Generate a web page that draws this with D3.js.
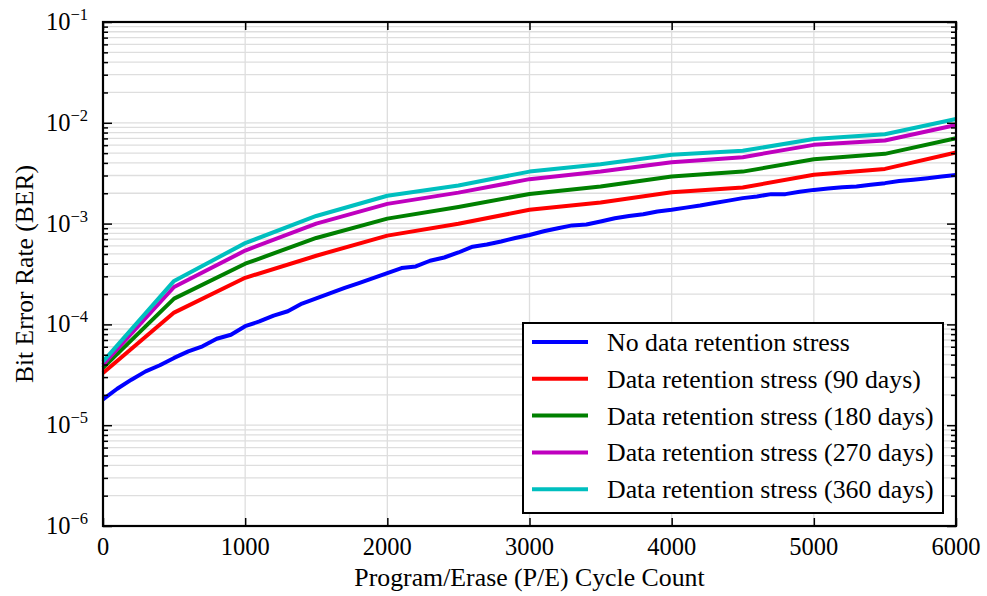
<!DOCTYPE html>
<html>
<head>
<meta charset="utf-8">
<script src="https://cdn.jsdelivr.net/npm/d3@7"></script>
<style>
  html, body { margin: 0; padding: 0; background: #fff; }
  text { font-family: "Liberation Serif", "Times New Roman", serif; fill: #000; }
</style>
</head>
<body>
<svg id="chart" width="987" height="596"></svg>
<script>
// ---- Data ----
const seriesNames = [
  "No data retention stress",
  "Data retention stress (90 days)",
  "Data retention stress (180 days)",
  "Data retention stress (270 days)",
  "Data retention stress (360 days)"
];
const seriesColors = ["#0000ff", "#ff0000", "#008000", "#bf00bf", "#00bfbf"];

// P/E cycle sampling for the baseline (every 100 cycles)
const peFine = [0,100,200,300,400,500,600,700,800,900,1000,1100,1200,1300,1400,1500,1600,1700,1800,1900,2000,
  2100,2200,2300,2400,2500,2600,2700,2800,2900,3000,3100,3200,3300,3400,3500,3600,3700,3800,3900,4000,
  4100,4200,4300,4400,4500,4600,4700,4800,4900,5000,5100,5200,5300,5400,5500,5600,5700,5800,5900,6000];
const berNoStress = [1.8e-5,2.3e-5,2.83e-5,3.42e-5,3.93e-5,4.65e-5,5.4e-5,6.06e-5,7.2e-5,7.9e-5,9.6e-5,
  1.07e-4,1.22e-4,1.35e-4,1.61e-4,1.81e-4,2.04e-4,2.3e-4,2.57e-4,2.88e-4,3.23e-4,
  3.62e-4,3.76e-4,4.28e-4,4.61e-4,5.17e-4,5.9e-4,6.2e-4,6.65e-4,7.2e-4,7.7e-4,
  8.4e-4,9.0e-4,9.6e-4,9.8e-4,1.05e-3,1.13e-3,1.19e-3,1.24e-3,1.32e-3,1.37e-3,
  1.44e-3,1.51e-3,1.6e-3,1.69e-3,1.79e-3,1.86e-3,1.96e-3,1.96e-3,2.07e-3,2.16e-3,
  2.23e-3,2.3e-3,2.33e-3,2.43e-3,2.52e-3,2.64e-3,2.72e-3,2.82e-3,2.93e-3,3.03e-3];

// P/E cycle sampling for retention-stress series (every 500 cycles)
const peCoarse = [0,500,1000,1500,2000,2500,3000,3500,4000,4500,5000,5500,6000];
const ber90  = [3.3e-5,1.31e-4,2.9e-4,4.8e-4,7.6e-4,9.95e-4,1.37e-3,1.62e-3,2.05e-3,2.28e-3,3.05e-3,3.49e-3,5.07e-3];
const ber180 = [3.7e-5,1.8e-4,4.0e-4,7.2e-4,1.12e-3,1.46e-3,1.97e-3,2.33e-3,2.93e-3,3.28e-3,4.35e-3,4.92e-3,7.03e-3];
const ber270 = [3.98e-5,2.35e-4,5.4e-4,1.0e-3,1.57e-3,2.03e-3,2.76e-3,3.28e-3,4.07e-3,4.56e-3,6.04e-3,6.67e-3,9.5e-3];
const ber360 = [4.27e-5,2.7e-4,6.4e-4,1.19e-3,1.89e-3,2.39e-3,3.28e-3,3.88e-3,4.81e-3,5.27e-3,6.92e-3,7.71e-3,1.09e-2];

const xTicks = [0,1000,2000,3000,4000,5000,6000];
const yExponents = [-6,-5,-4,-3,-2,-1];

const xTitle = "Program/Erase (P/E) Cycle Count";
const yTitle = "Bit Error Rate (BER)";

// ---- Layout ----
const svg = d3.select("#chart");
const pL = 103, pR = 956, pT = 22, pB = 526;

const x = d3.scaleLinear().domain([0, 6000]).range([pL, pR]);
const y = d3.scaleLog().domain([1e-6, 1e-1]).range([pB, pT]);

const series = [
  { xs: peFine, ys: berNoStress },
  { xs: peCoarse, ys: ber90 },
  { xs: peCoarse, ys: ber180 },
  { xs: peCoarse, ys: ber270 },
  { xs: peCoarse, ys: ber360 }
];

// minor log values
const minorVals = [];
yExponents.slice(0, -1).forEach(e => {
  for (let m = 2; m <= 9; m++) minorVals.push(m * Math.pow(10, e));
});
const majorVals = yExponents.map(e => Math.pow(10, e));

// ---- Grid ----
const grid = svg.append("g");
grid.selectAll("line.hg").data(minorVals.concat(majorVals)).enter().append("line")
  .attr("x1", pL).attr("x2", pR)
  .attr("y1", d => y(d)).attr("y2", d => y(d))
  .attr("stroke", "#dedede").attr("stroke-width", 1.3);
grid.selectAll("line.vg").data(xTicks).enter().append("line")
  .attr("y1", pT).attr("y2", pB)
  .attr("x1", d => x(d)).attr("x2", d => x(d))
  .attr("stroke", "#dedede").attr("stroke-width", 1.3);

// ---- Lines ----
const lineGen = d3.line().x(d => x(d[0])).y(d => y(d[1]));
series.forEach((s, i) => {
  const pts = s.xs.map((v, j) => [v, s.ys[j]]);
  svg.append("path")
    .datum(pts)
    .attr("d", lineGen)
    .attr("fill", "none")
    .attr("stroke", seriesColors[i])
    .attr("stroke-width", 4)
    .attr("stroke-linejoin", "round");
});

// ---- Axes (ticks inward on all four sides) ----
const axG = svg.append("g");
axG.append("g").attr("transform", `translate(0,${pB})`)
  .call(d3.axisBottom(x).tickValues(xTicks).tickSize(-8).tickFormat(""))
  .call(g => g.select(".domain").remove());
axG.append("g").attr("transform", `translate(0,${pT})`)
  .call(d3.axisTop(x).tickValues(xTicks).tickSize(-8).tickFormat(""))
  .call(g => g.select(".domain").remove());
axG.append("g").attr("transform", `translate(${pL},0)`)
  .call(d3.axisLeft(y).tickValues(majorVals).tickSize(-9).tickFormat(""))
  .call(g => g.select(".domain").remove());
axG.append("g").attr("transform", `translate(${pL},0)`)
  .call(d3.axisLeft(y).tickValues(minorVals).tickSize(-5).tickFormat(""))
  .call(g => g.select(".domain").remove());
axG.append("g").attr("transform", `translate(${pR},0)`)
  .call(d3.axisRight(y).tickValues(majorVals).tickSize(-9).tickFormat(""))
  .call(g => g.select(".domain").remove());
axG.append("g").attr("transform", `translate(${pR},0)`)
  .call(d3.axisRight(y).tickValues(minorVals).tickSize(-5).tickFormat(""))
  .call(g => g.select(".domain").remove());
axG.selectAll(".tick line").attr("stroke", "#000").attr("stroke-width", 1.5);

// frame
svg.append("rect")
  .attr("x", pL).attr("y", pT)
  .attr("width", pR - pL).attr("height", pB - pT)
  .attr("fill", "none").attr("stroke", "#000").attr("stroke-width", 2.2);

// x tick labels
svg.selectAll("text.xt").data(xTicks).enter().append("text")
  .attr("x", d => x(d)).attr("y", pB + 29)
  .attr("text-anchor", "middle")
  .style("font-size", "24.5px")
  .text(d => d);

// y tick labels 10^e
yExponents.forEach(e => {
  const t = svg.append("text")
    .attr("x", 88).attr("y", y(Math.pow(10, e)) + 8)
    .attr("text-anchor", "end")
    .style("font-size", "24.5px");
  t.append("tspan").text("10");
  t.append("tspan").attr("dy", -10).style("font-size", "16.5px").text("\u2212" + Math.abs(e));
});

// axis titles
svg.append("text")
  .attr("x", (pL + pR) / 2).attr("y", 586)
  .attr("text-anchor", "middle")
  .style("font-size", "25.8px")
  .text(xTitle);
svg.append("text")
  .attr("transform", `translate(33,${(pT + pB) / 2}) rotate(-90)`)
  .attr("text-anchor", "middle")
  .style("font-size", "25.6px")
  .text(yTitle);

// ---- Legend ----
const lg = svg.append("g");
lg.append("rect")
  .attr("x", 523).attr("y", 323).attr("width", 420).attr("height", 190)
  .attr("fill", "#fff").attr("stroke", "#000").attr("stroke-width", 2);
seriesNames.forEach((name, i) => {
  const cy = 342 + i * 36.8;
  lg.append("line")
    .attr("x1", 532).attr("x2", 588).attr("y1", cy).attr("y2", cy)
    .attr("stroke", seriesColors[i]).attr("stroke-width", 4);
  lg.append("text")
    .attr("x", 607).attr("y", cy + 9)
    .style("font-size", "25.8px")
    .text(name);
});
</script>
</body>
</html>
